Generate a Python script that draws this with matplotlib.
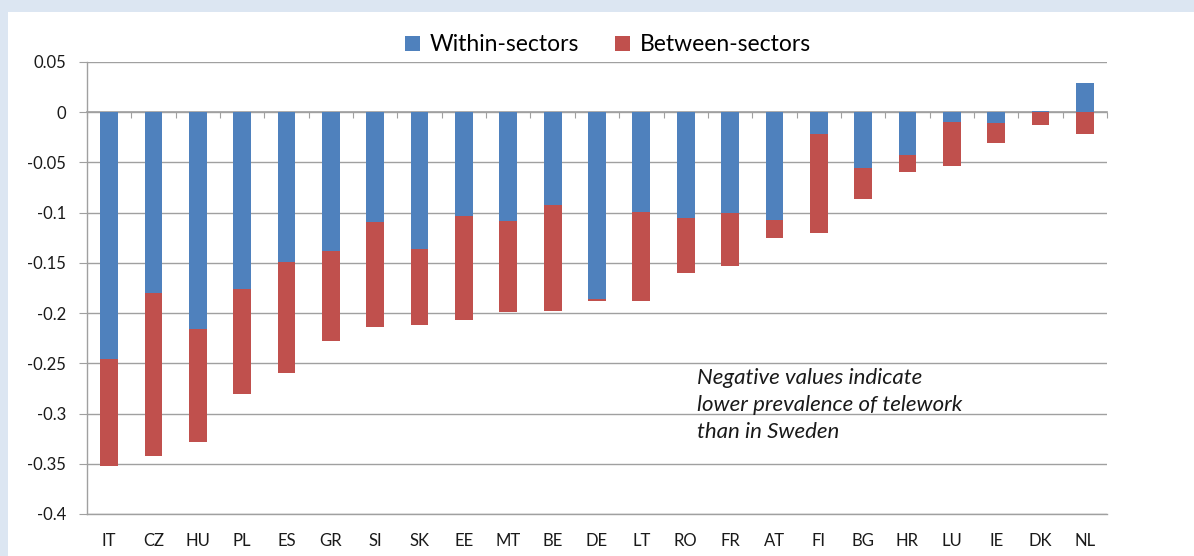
import matplotlib
matplotlib.use("Agg")
import matplotlib.pyplot as plt
import numpy as np
from matplotlib.patches import Rectangle

countries = ["IT", "CZ", "HU", "PL", "ES", "GR", "SI", "SK", "EE", "MT", "BE", "DE",
             "LT", "RO", "FR", "AT", "FI", "BG", "HR", "LU", "IE", "DK", "NL"]
within = [-0.246, -0.180, -0.216, -0.176, -0.149, -0.138, -0.109, -0.136, -0.103, -0.108,
          -0.092, -0.186, -0.099, -0.105, -0.100, -0.107, -0.022, -0.056, -0.043, -0.010,
          -0.011, 0.0013, 0.0295]
between = [-0.106, -0.162, -0.112, -0.105, -0.111, -0.090, -0.105, -0.076, -0.104, -0.091,
           -0.106, -0.002, -0.089, -0.055, -0.053, -0.018, -0.098, -0.030, -0.017, -0.044,
           -0.020, -0.0126, -0.0216]
yticks = [0.05, 0, -0.05, -0.1, -0.15, -0.2, -0.25, -0.3, -0.35, -0.4]
note = "Negative values indicate\nlower prevalence of telework\nthan in Sweden"

BLUE = "#4f81bd"
RED = "#c0504d"
GRID = "#a0a0a0"
plt.rcParams['font.family'] = ['Lato', 'DejaVu Sans']

W, H = 1194, 556
fig = plt.figure(figsize=(W / 100, H / 100), dpi=100, facecolor="#dce6f2")
fig.patches.append(Rectangle((8 / W, 0), 1 - 8 / W, 1 - 12 / H, transform=fig.transFigure,
                             facecolor="white", edgecolor="none", zorder=-5))

ax = fig.add_axes([87 / W, 1 - 514 / H, (1107 - 87) / W, (514 - 62) / H])
ax.set_facecolor("white")
x = np.arange(len(countries))
w = np.array(within)
b = np.array(between)
ax.bar(x, w, width=0.4, color=BLUE, label="Within-sectors", zorder=3)
ax.bar(x, b, width=0.4, bottom=np.minimum(w, 0), color=RED, label="Between-sectors", zorder=3)

ax.set_xlim(-0.5, len(countries) - 0.5)
ax.set_ylim(-0.4, 0.05)
ax.set_yticks(yticks)
ax.set_yticklabels(["%g" % v for v in yticks])
ax.set_xticks(x)
ax.set_xticklabels(countries)
ax.yaxis.grid(True, color=GRID, linewidth=1.0, zorder=0)
ax.set_axisbelow(True)
for s in ["top", "right"]:
    ax.spines[s].set_visible(False)
for s in ["left", "bottom"]:
    ax.spines[s].set_color(GRID)
    ax.spines[s].set_linewidth(1.0)
ax.tick_params(axis="y", length=6, color=GRID, pad=9, labelsize=12, labelcolor="#1a1a1a")
ax.tick_params(axis="x", length=0, pad=14, labelsize=12, labelcolor="#1a1a1a")

# category tick marks on the zero line
sec = ax.secondary_xaxis((0 - (-0.4)) / 0.45)
sec.set_xticks(np.arange(-0.5, len(countries), 1.0))
sec.tick_params(direction="in", length=4, color=GRID, labeltop=False, labelbottom=False)
for s in sec.spines.values():
    s.set_color(GRID)
    s.set_linewidth(1.2)

fig.legend(loc="center", bbox_to_anchor=(608 / W, 1 - 45 / H), ncol=2, frameon=False,
           fontsize=16.5, handlelength=0.65, handleheight=0.65, handletextpad=0.4,
           columnspacing=1.6)

ax.text(13.25, -0.255, note, fontsize=16, style="italic", va="top", ha="left",
        linespacing=1.42, color="#1a1a1a")

fig.savefig("out.png", dpi=100, facecolor=fig.get_facecolor())
